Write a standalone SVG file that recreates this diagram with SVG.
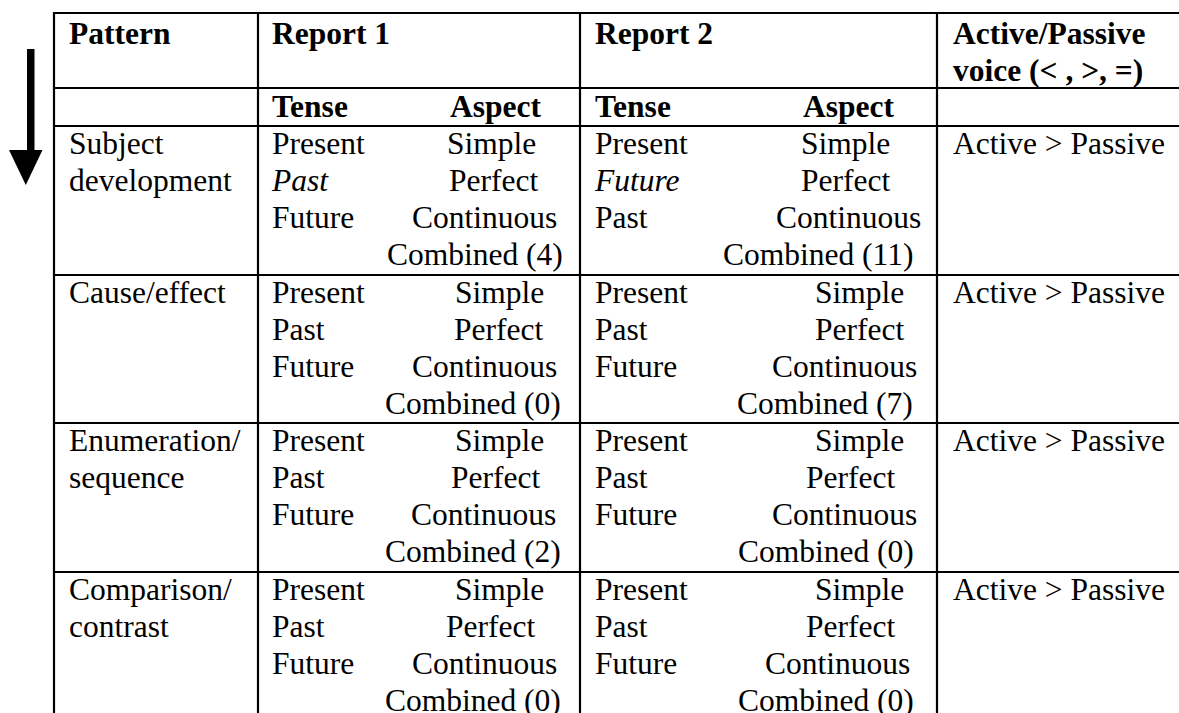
<svg xmlns="http://www.w3.org/2000/svg" width="1179" height="713" viewBox="0 0 1179 713">
<style>
text{font-family:"Liberation Serif","Times New Roman",serif;font-size:31.5px;fill:#000}
.b{font-weight:bold}
.i{font-style:italic}
.ln{stroke:#000;stroke-width:2.2;fill:none}
</style>
<rect width="1179" height="713" fill="#fff"/>
<g id="arrow">
<rect x="27" y="49" width="7.5" height="102" fill="#000"/>
<polygon points="9,150 42.5,150 25.8,185" fill="#000"/>
</g>
<g id="grid" class="ln">
<line x1="53" y1="13" x2="1179" y2="13"/>
<line x1="53" y1="88" x2="1179" y2="88"/>
<line x1="53" y1="126" x2="1179" y2="126"/>
<line x1="53" y1="275" x2="1179" y2="275"/>
<line x1="53" y1="423" x2="1179" y2="423"/>
<line x1="53" y1="572" x2="1179" y2="572"/>
<line x1="54" y1="12" x2="54" y2="713"/>
<line x1="258" y1="12" x2="258" y2="713"/>
<line x1="580" y1="12" x2="580" y2="713"/>
<line x1="937" y1="12" x2="937" y2="713"/>
</g>
<g id="header">
<text class="b" x="69" y="44">Pattern</text>
<text class="b" x="272" y="44">Report 1</text>
<text class="b" x="595" y="44">Report 2</text>
<text class="b" x="953" y="44">Active/Passive</text>
<text class="b" x="953" y="81">voice (&lt; , &gt;, =)</text>
</g>
<g id="subheader">
<text class="b" x="272" y="117">Tense</text>
<text class="b" x="450" y="117">Aspect</text>
<text class="b" x="595" y="117">Tense</text>
<text class="b" x="803" y="117">Aspect</text>
</g>
<g id="row-subject">
<text x="69" y="154">Subject</text>
<text x="69" y="191">development</text>
<text x="272" y="154">Present</text>
<text class="i" x="272" y="191">Past</text>
<text x="272" y="228">Future</text>
<text x="447" y="154">Simple</text>
<text x="449" y="191">Perfect</text>
<text x="412" y="228">Continuous</text>
<text x="387" y="265">Combined (4)</text>
<text x="595" y="154">Present</text>
<text class="i" x="595" y="191">Future</text>
<text x="595" y="228">Past</text>
<text x="801" y="154">Simple</text>
<text x="801" y="191">Perfect</text>
<text x="776" y="228">Continuous</text>
<text x="723" y="265">Combined (11)</text>
<text x="953" y="154">Active &gt; Passive</text>
</g>
<g id="row-cause">
<text x="69" y="303">Cause/effect</text>
<text x="272" y="303">Present</text>
<text x="272" y="340">Past</text>
<text x="272" y="377">Future</text>
<text x="455" y="303">Simple</text>
<text x="454" y="340">Perfect</text>
<text x="412" y="377">Continuous</text>
<text x="385" y="414">Combined (0)</text>
<text x="595" y="303">Present</text>
<text x="595" y="340">Past</text>
<text x="595" y="377">Future</text>
<text x="815" y="303">Simple</text>
<text x="815" y="340">Perfect</text>
<text x="772" y="377">Continuous</text>
<text x="737" y="414">Combined (7)</text>
<text x="953" y="303">Active &gt; Passive</text>
</g>
<g id="row-enumeration">
<text x="69" y="451">Enumeration/</text>
<text x="69" y="488">sequence</text>
<text x="272" y="451">Present</text>
<text x="272" y="488">Past</text>
<text x="272" y="525">Future</text>
<text x="455" y="451">Simple</text>
<text x="451" y="488">Perfect</text>
<text x="411" y="525">Continuous</text>
<text x="385" y="562">Combined (2)</text>
<text x="595" y="451">Present</text>
<text x="595" y="488">Past</text>
<text x="595" y="525">Future</text>
<text x="815" y="451">Simple</text>
<text x="806" y="488">Perfect</text>
<text x="772" y="525">Continuous</text>
<text x="738" y="562">Combined (0)</text>
<text x="953" y="451">Active &gt; Passive</text>
</g>
<g id="row-comparison">
<text x="69" y="600">Comparison/</text>
<text x="69" y="637">contrast</text>
<text x="272" y="600">Present</text>
<text x="272" y="637">Past</text>
<text x="272" y="674">Future</text>
<text x="455" y="600">Simple</text>
<text x="446" y="637">Perfect</text>
<text x="412" y="674">Continuous</text>
<text x="385" y="711">Combined (0)</text>
<text x="595" y="600">Present</text>
<text x="595" y="637">Past</text>
<text x="595" y="674">Future</text>
<text x="815" y="600">Simple</text>
<text x="806" y="637">Perfect</text>
<text x="765" y="674">Continuous</text>
<text x="738" y="711">Combined (0)</text>
<text x="953" y="600">Active &gt; Passive</text>
</g>
</svg>
